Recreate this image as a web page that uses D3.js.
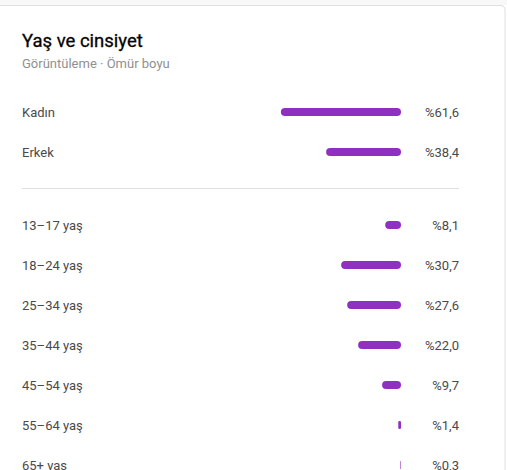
<!DOCTYPE html>
<html lang="tr">
<head>
<meta charset="UTF-8">
<script src="https://cdnjs.cloudflare.com/ajax/libs/d3/7.8.4/d3.min.js"></script>
<title>Yaş ve cinsiyet</title>
<style>
  body { margin: 0; background: #fff; }
  svg { display: block; font-family: Roboto, "Noto Sans", sans-serif; }
</style>
</head>
<body>
<script>
const genderLabels = ["Kadın", "Erkek"]
const genderValues = [61.6, 38.4]
const ageLabels = ["13–17 yaş", "18–24 yaş", "25–34 yaş", "35–44 yaş", "45–54 yaş", "55–64 yaş", "65+ yaş"]
const ageValues = [8.1, 30.7, 27.6, 22.0, 9.7, 1.4, 0.3]

const W = 507, H = 470
const barColor = "#9030c0"
const barRight = 401, valueRight = 459, labelX = 22

let svg = d3.select("body").append("svg")
  .attr("width", W)
  .attr("height", H)

// card outline at the top
svg.append("rect").attr("x", 0).attr("y", 0).attr("width", W).attr("height", 5).attr("fill", "#f8f8f8")
svg.append("path")
  .attr("d", `M0,5.5 H${W - 6} Q${W - 2},5.5 ${W - 2},9.5 V${H}`)
  .attr("fill", "#fff")
  .attr("stroke", "#e0e0e0")

svg.append("text")
  .attr("x", labelX).attr("y", 47)
  .attr("font-size", 18.5).attr("font-weight", 400)
  .attr("fill", "#030303")
  .attr("stroke", "#030303").attr("stroke-width", 0.3)
  .text("Yaş ve cinsiyet")

svg.append("text")
  .attr("x", labelX).attr("y", 67.5)
  .attr("font-size", 13)
  .attr("fill", "#909090")
  .text("Görüntüleme · Ömür boyu")

let x = d3.scaleLinear().domain([0, 100]).range([0, 195])
let fmt = d3.formatLocale({ decimal: ",", thousands: ".", grouping: [3], currency: ["", ""] }).format(".1f")

function drawRows(labels, values, yRange) {
  let y = d3.scalePoint().domain(labels).range(yRange)
  let rows = svg.append("g").selectAll("g").data(labels.map((l, i) => ({ name: l, value: values[i] })))
    .enter().append("g")
    .attr("transform", d => `translate(0, ${y(d.name)})`)

  rows.append("text")
    .attr("x", labelX).attr("dy", "0.35em")
    .attr("font-size", 13).attr("fill", "#4a4a4a")
    .text(d => d.name)

  rows.append("rect")
    .attr("x", d => barRight - x(d.value))
    .attr("y", -4)
    .attr("width", d => x(d.value))
    .attr("height", 8)
    .attr("rx", d => Math.min(4, x(d.value) / 2))
    .attr("fill", barColor)

  rows.append("text")
    .attr("x", valueRight).attr("dy", "0.35em")
    .attr("text-anchor", "end")
    .attr("font-size", 13).attr("fill", "#4a4a4a")
    .text(d => "%" + fmt(d.value))
}

drawRows(genderLabels, genderValues, [112, 152])

svg.append("line")
  .attr("x1", labelX).attr("x2", valueRight)
  .attr("y1", 188.5).attr("y2", 188.5)
  .attr("stroke", "#e0e0e0")

drawRows(ageLabels, ageValues, [225, 465])
</script>
</body>
</html>
